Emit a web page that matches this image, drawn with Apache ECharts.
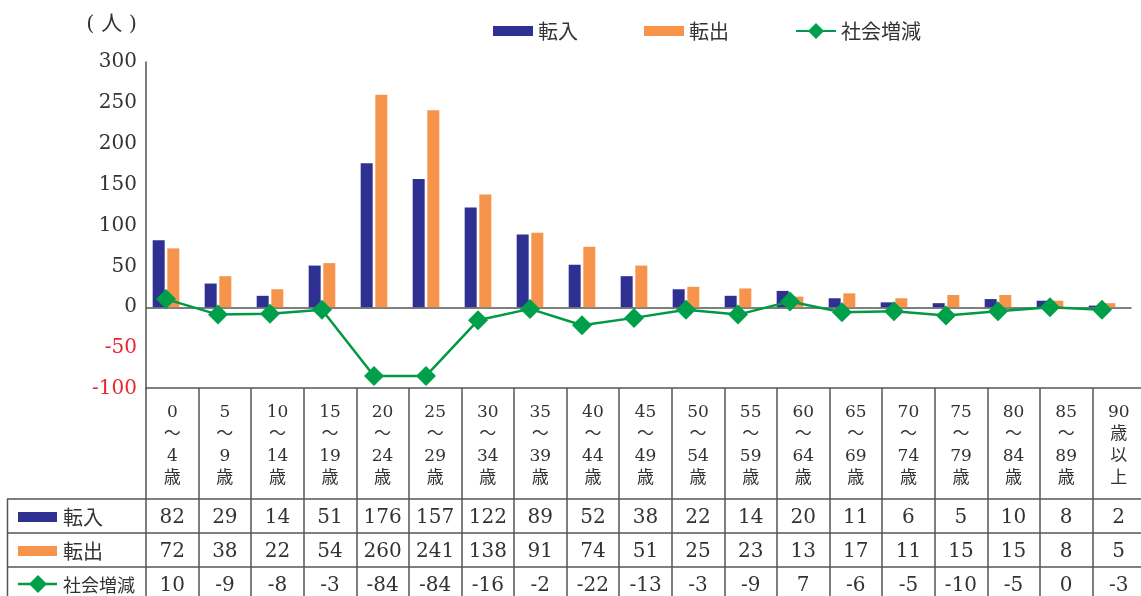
<!DOCTYPE html>
<html><head><meta charset="utf-8">
<script src="https://cdn.jsdelivr.net/npm/echarts@6/dist/echarts.min.js"></script>
<style>html,body{margin:0;padding:0;background:#fff}#c{width:1141px;height:596px}</style>
</head><body><div id="c"></div>
<script>
const categories = ['0\n～\n4\n歳','5\n～\n9\n歳','10\n～\n14\n歳','15\n～\n19\n歳','20\n～\n24\n歳','25\n～\n29\n歳','30\n～\n34\n歳','35\n～\n39\n歳','40\n～\n44\n歳','45\n～\n49\n歳','50\n～\n54\n歳','55\n～\n59\n歳','60\n～\n64\n歳','65\n～\n69\n歳','70\n～\n74\n歳','75\n～\n79\n歳','80\n～\n84\n歳','85\n～\n89\n歳','90\n歳\n以\n上'];
const tennyu    = [82, 29, 14, 51, 176, 157, 122, 89, 52, 38, 22, 14, 20, 11, 6, 5, 10, 8, 2];
const tenshutsu = [72, 38, 22, 54, 260, 241, 138, 91, 74, 51, 25, 23, 13, 17, 11, 15, 15, 8, 5];
const shakai    = [10, -9, -8, -3, -84, -84, -16, -2, -22, -13, -3, -9, 7, -6, -5, -10, -5, 0, -3];
const seriesNames = ['転入', '転出', '社会増減'];
const unitLabel = '( 人 )';

const SERIF = "'DejaVu Serif', 'Noto Sans CJK JP', serif";
const JP = "'Noto Sans CJK JP', sans-serif";
const TXT = '#333';
const LINE = '#555';
const BLUE = '#2e3192', ORANGE = '#f7944b', GREEN = '#009944', GREEN_PT = '#00a04a', RED = '#e8262f';
const BAR_ICON = 'path://M0,0H40V10H0Z';

const chart = echarts.init(document.getElementById('c'), null, {renderer: 'canvas'});

function valueAxis(arr, margin) {
  return {
    type: 'category', gridIndex: 1, position: 'top', data: arr.map(String),
    axisLine: {show: false, onZero: false}, axisTick: {show: false},
    axisLabel: {inside: true, margin: margin, interval: 0, verticalAlign: 'middle',
      fontFamily: SERIF, fontSize: 20, color: TXT}
  };
}

const option = {
  animation: false,
  backgroundColor: '#fff',
  grid: [
    {left: 140, width: 988, top: 62, height: 327, outerBoundsMode: 'none', containLabel: false},
    {left: 146, width: 999, top: 388, height: 210, outerBoundsMode: 'none', containLabel: false},
    {left: 146, width: 985, top: 62, height: 327, outerBoundsMode: 'none', containLabel: false}
  ],
  legend: {
    left: 488, top: 16, itemWidth: 40, itemHeight: 20, itemGap: 66,
    textStyle: {fontFamily: JP, fontSize: 20, color: TXT, padding: [0, 0, 0, 0]},
    data: [{name: seriesNames[0], icon: BAR_ICON}, {name: seriesNames[1], icon: BAR_ICON}, {name: seriesNames[2]}]
  },
  xAxis: [
    {type: 'category', gridIndex: 0, data: categories, show: false},
    {type: 'category', gridIndex: 1, position: 'top', data: categories,
      axisLine: {show: true, onZero: false, lineStyle: {color: LINE, width: 1.5}},
      axisTick: {show: true, inside: true, length: 215, lineStyle: {color: LINE, width: 1.5}},
      axisLabel: {inside: true, margin: 14, interval: 0, verticalAlign: 'top', lineHeight: 22,
        fontFamily: SERIF, fontSize: 17, color: TXT}},
    valueAxis(tennyu, 130),
    valueAxis(tenshutsu, 164),
    valueAxis(shakai, 198),
    {type: 'category', gridIndex: 2, data: categories,
      axisLine: {show: true, onZero: true, lineStyle: {color: LINE, width: 1.5}},
      axisTick: {show: false}, axisLabel: {show: false}}
  ],
  yAxis: [
    {type: 'value', gridIndex: 0, min: -100, max: 300, interval: 50, show: false},
    {type: 'value', gridIndex: 1, min: 0, max: 1, show: false},
    {type: 'value', gridIndex: 2, min: -100, max: 300, interval: 50,
      axisLine: {show: true, lineStyle: {color: LINE, width: 1.5}},
      axisTick: {show: false}, splitLine: {show: false},
      axisLabel: {margin: 9, fontFamily: SERIF, fontSize: 20,
        color: function (v) { return Number(v) < 0 ? RED : TXT; }}}
  ],
  series: [
    {name: seriesNames[0], type: 'bar', xAxisIndex: 0, yAxisIndex: 0, data: tennyu,
      barWidth: 12, barGap: '22%', itemStyle: {color: BLUE}},
    {name: seriesNames[1], type: 'bar', xAxisIndex: 0, yAxisIndex: 0, data: tenshutsu,
      barWidth: 12, barGap: '22%', itemStyle: {color: ORANGE}},
    {name: seriesNames[2], type: 'line', xAxisIndex: 0, yAxisIndex: 0, data: shakai, z: 5,
      symbol: 'diamond', symbolSize: 20,
      lineStyle: {color: GREEN, width: 2.5}, itemStyle: {color: GREEN_PT}}
  ],
  graphic: [
    {type: 'text', x: 137, y: 25, style: {text: unitLabel, align: 'right', verticalAlign: 'middle',
      font: "21px 'DejaVu Serif', 'Noto Sans CJK JP'", fill: TXT}},
    {type: 'line', shape: {x1: 7, y1: 499, x2: 1145, y2: 499}, style: {stroke: LINE, lineWidth: 1.5}},
    {type: 'line', shape: {x1: 7, y1: 533, x2: 1145, y2: 533}, style: {stroke: LINE, lineWidth: 1.5}},
    {type: 'line', shape: {x1: 7, y1: 567, x2: 1145, y2: 567}, style: {stroke: LINE, lineWidth: 1.5}},
    {type: 'line', shape: {x1: 7.5, y1: 499, x2: 7.5, y2: 600}, style: {stroke: LINE, lineWidth: 1.5}},
    {type: 'rect', shape: {x: 18, y: 512, width: 39, height: 10}, style: {fill: BLUE}},
    {type: 'rect', shape: {x: 18, y: 546, width: 39, height: 10}, style: {fill: ORANGE}},
    {type: 'line', shape: {x1: 18, y1: 584, x2: 57, y2: 584}, style: {stroke: GREEN, lineWidth: 2.5}},
    {type: 'polygon', shape: {points: [[38, 575], [47, 584], [38, 593], [29, 584]]}, style: {fill: GREEN_PT}},
    {type: 'text', x: 63, y: 517, style: {text: seriesNames[0], verticalAlign: 'middle', font: "20px 'Noto Sans CJK JP'", fill: TXT}},
    {type: 'text', x: 63, y: 551, style: {text: seriesNames[1], verticalAlign: 'middle', font: "20px 'Noto Sans CJK JP'", fill: TXT}},
    {type: 'text', x: 63, y: 585, style: {text: seriesNames[2], verticalAlign: 'middle', font: "18px 'Noto Sans CJK JP'", fill: TXT}}
  ]
};
chart.setOption(option);
</script></body></html>
